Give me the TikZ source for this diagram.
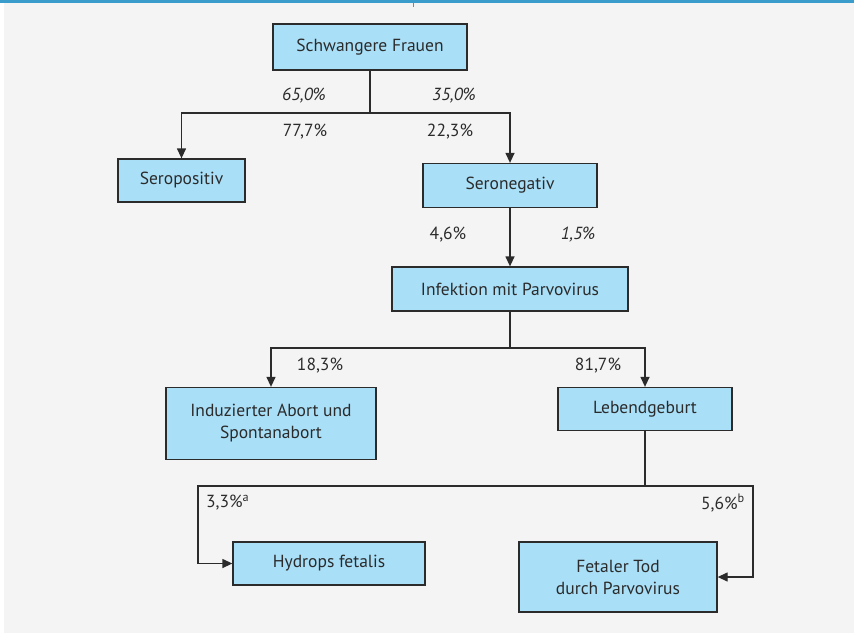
\documentclass[tikz,border=0pt]{standalone}
\usepackage{fontspec}
\setmainfont{PT Sans}
\usetikzlibrary{arrows.meta}
\definecolor{boxblue}{HTML}{A9DFF7}
\definecolor{bggray}{HTML}{F4F4F4}
\definecolor{topblue}{HTML}{3A9CCB}
\definecolor{linegray}{HTML}{2B2B2B}
\begin{document}
\begin{tikzpicture}[x=1pt,y=1pt,>={Triangle[length=10pt,width=9pt]},
  stage/.style={draw=linegray, line width=1.3pt, fill=boxblue, align=center, inner sep=0pt, text=linegray, font=\fontsize{17.5}{22}\selectfont},
  pct/.style={font=\fontsize{17.5}{22}\selectfont, text=linegray, inner sep=0pt},
  conn/.style={draw=linegray, line width=1.3pt}]
\useasboundingbox (0,0) rectangle (854,-633);
\fill[white] (0,0) rectangle (854,-633);
\fill[bggray] (4,-3) rectangle (854,-633);
\fill[topblue] (0,0) rectangle (854,-3);
\draw[topblue, line width=1pt] (413,-3) -- (413,-7);
\node[stage, minimum width=194pt, minimum height=46pt] (frauen) at (370,-47) {Schwangere Frauen};
\node[stage, minimum width=127pt, minimum height=43pt] (seropos) at (181.5,-180.5) {Seropositiv};
\node[stage, minimum width=174pt, minimum height=44pt] (seroneg) at (510,-185.5) {Seronegativ};
\node[stage, minimum width=236pt, minimum height=44pt] (infekt) at (510,-289) {Infektion mit Parvovirus};
\node[stage, minimum width=210pt, minimum height=72pt] (abort) at (271,-423.5) {Induzierter Abort und\\Spontanabort};
\node[stage, minimum width=174pt, minimum height=43pt] (lebend) at (645,-409) {Lebendgeburt};
\node[stage, minimum width=192pt, minimum height=43pt] (hydrops) at (329,-563.5) {Hydrops fetalis};
\node[stage, minimum width=198pt, minimum height=70pt] (fetal) at (618,-577) {Fetaler Tod\\durch Parvovirus};
% branching points
\coordinate (split1) at (370,-113);
\coordinate (split2) at (510,-348);
\coordinate (split3) at (645,-486);
\coordinate (hleft) at (198,-486);
\coordinate (hright) at (753,-486);
\draw[conn] (frauen.south) -- (split1);
\draw[conn,->] (split1) -| (seropos.north);
\draw[conn,->] (split1) -| (seroneg.north);
\draw[conn,->] (seroneg.south) -- (infekt.north);
\draw[conn] (infekt.south) -- (split2);
\draw[conn,->] (split2) -| (abort.north);
\draw[conn,->] (split2) -| (lebend.north);
\draw[conn] (lebend.south) -- (split3);
\draw[conn,->] (split3) -- (hleft) |- (hydrops.west);
\draw[conn,->] (split3) -- (hright) |- (fetal.east);
% labels
\node[pct] (p65) at (304,-96) {\itshape 65,0\%};
\node[pct] (p35) at (454,-96) {\itshape 35,0\%};
\node[pct] (p777) at (305,-132) {77,7\%};
\node[pct] (p223) at (450,-132) {22,3\%};
\node[pct] (p46) at (448,-235) {4,6\%};
\node[pct] (p15) at (578,-235) {\itshape 1,5\%};
\node[pct] (p183) at (320,-366) {18,3\%};
\node[pct] (p817) at (598,-366) {81,7\%};
\node[pct, anchor=west] (p33) at (206,-503) {3,3\%\textsuperscript{a}};
\node[pct, anchor=east] (p56) at (745,-503) {5,6\%\textsuperscript{b}};
\end{tikzpicture}
\end{document}
